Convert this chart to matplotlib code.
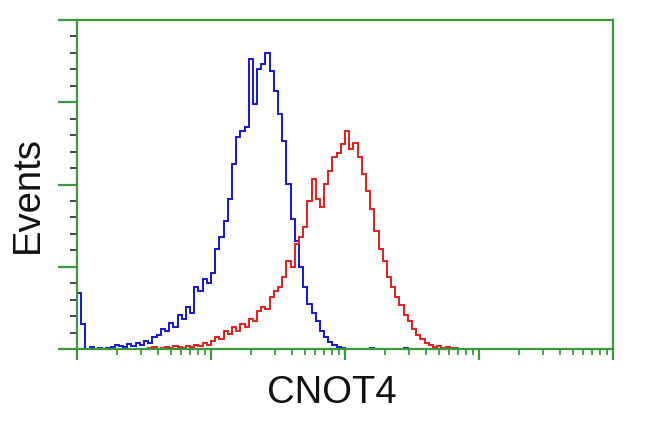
import numpy as np
import matplotlib
matplotlib.use("Agg")
import matplotlib.pyplot as plt
from matplotlib.ticker import LogLocator, MultipleLocator, NullFormatter

# 128 log channels over 4 decades (10^0 .. 10^4)
n_channels = 128
edges = 10 ** (np.arange(n_channels + 1) / 32.0)

# isotype control (blue), channels 0..63, plus a couple of stray events
blue_vals = [68, 30, 0, 2, 0, 1, 0, 1, 2, 5, 4, 2, 6, 4, 7, 5,
             10, 7, 15, 17, 24, 22, 32, 27, 41, 36, 51, 44, 75, 71, 85, 80,
             92, 122, 136, 156, 182, 225, 258, 265, 270, 353, 298, 340, 347, 360, 338, 314,
             286, 253, 201, 158, 131, 100, 75, 55, 44, 34, 22, 15, 9, 5, 2, 1]
blue_extra = {70: 1, 78: 1}

# CNOT4 stained (red), channels 17..90
red_start = 17
red_vals = [1, 2, 0, 1, 2, 1, 4, 2, 1, 4, 2, 5, 4, 7, 5,
            10, 15, 12, 22, 18, 27, 22, 30, 27, 36, 34, 46, 51, 49, 63, 71,
            75, 88, 107, 100, 128, 136, 148, 180, 207, 182, 173, 201, 216, 233, 238, 249,
            265, 243, 250, 233, 213, 192, 170, 143, 122, 107, 88, 75, 63, 54, 41, 34,
            24, 17, 12, 7, 5, 2, 4, 1, 2, 1, 1]

blue = np.zeros(n_channels)
blue[:len(blue_vals)] = blue_vals
for k, v in blue_extra.items():
    blue[k] = v
red = np.zeros(n_channels)
red[red_start:red_start + len(red_vals)] = red_vals

green = '#3a9a3a'

fig = plt.figure(figsize=(6.5, 4.32), dpi=100)
fig.set_facecolor('white')
ax = fig.add_axes([0.1185, 0.1921, 0.8246, 0.7616])

ax.stairs(blue, edges, color='#1414e6', linewidth=1.4)
ax.stairs(red, edges, color='#e81c1c', linewidth=1.4)

ax.set_xscale('log')
ax.set_xlim(1, 1e4)
ax.set_ylim(0, 400)

for s in ax.spines.values():
    s.set_color(green)
    s.set_linewidth(1.6)

ax.xaxis.set_major_locator(LogLocator(base=10, numticks=10))
ax.xaxis.set_minor_locator(LogLocator(base=10, subs=np.arange(2, 10), numticks=10))
ax.xaxis.set_major_formatter(NullFormatter())
ax.xaxis.set_minor_formatter(NullFormatter())
ax.yaxis.set_major_locator(MultipleLocator(100))
ax.yaxis.set_minor_locator(MultipleLocator(20))
ax.yaxis.set_major_formatter(NullFormatter())

ax.tick_params(axis='x', which='major', direction='out', length=8, width=1.6, color=green)
ax.tick_params(axis='x', which='minor', direction='out', length=4, width=1.3, color=green)
ax.tick_params(axis='y', which='major', direction='out', length=14, width=1.6, color=green)
ax.tick_params(axis='y', which='minor', direction='out', length=5, width=1.3, color='#333333')

fig.text(0.511, 0.0903, 'CNOT4', ha='center', va='center',
         fontsize=27.5, family='Liberation Sans', color='#111111')
fig.text(0.043, 0.549, 'Events', ha='center', va='center', rotation=90,
         fontsize=27.5, family='Liberation Sans', color='#111111')

fig.savefig('out.png', dpi=100, facecolor='white')
